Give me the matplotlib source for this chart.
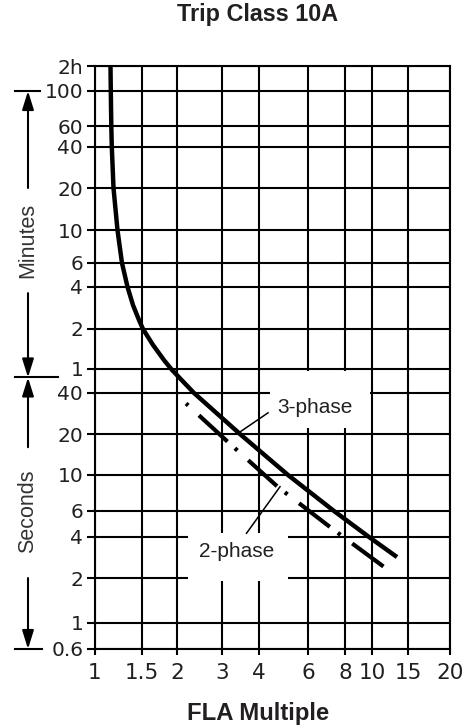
import numpy as np
import matplotlib
matplotlib.use("Agg")
import matplotlib.pyplot as plt
from matplotlib import transforms
from matplotlib.patches import Rectangle

plt.rcParams['font.family'] = ['Liberation Sans', 'DejaVu Sans']

# axis ticks (y in seconds)
x_ticks = [1, 1.5, 2, 3, 4, 6, 8, 10, 15, 20]
x_tick_labels = ['1', '1.5', '2', '3', '4', '6', '8', '10', '15', '20']
y_ticks = [0.6, 1, 2, 4, 6, 10, 20, 40, 60, 120, 240, 360, 600, 1200, 2400, 3600, 6000, 7200]
y_tick_labels = ['0.6', '1', '2', '4', '6', '10', '20', '40',
                 '1', '2', '4', '6', '10', '20', '40', '60', '100', '2h']

# trip curves
fla_3ph = [1.143, 1.146, 1.151, 1.156, 1.173, 1.214, 1.262, 1.324, 1.388, 1.462,
           1.512, 1.642, 1.797, 1.92, 2.331, 3.477, 5.085, 7.344, 9.755, 13.25]
sec_3ph = [7200, 6000, 3600, 2400, 1200, 600, 360, 240, 178, 139,
           120, 91, 70, 59, 40, 19.7, 10, 6, 4, 2.85]
fla_2ph = [2.17, 3.14, 4.68, 7.34, 12.0]
sec_2ph = [33.5, 17.5, 8.43, 4.46, 2.29]

# the printed grid is only roughly logarithmic: spacing of its lines
x_grid_px = [95, 142, 177, 222, 259, 308, 345, 372, 408, 450]
y_grid_px = [649, 623, 578, 537, 511, 475, 434, 393, 369, 329, 287, 263, 230, 188, 147, 126, 91, 66]


def warped_log(vals, pos):
    lv = np.log10(vals)
    p = np.asarray(pos, float)

    def fwd(v):
        v = np.asarray(v, float)
        shp = v.shape
        lg = np.log10(np.clip(v.ravel(), 1e-9, None))
        out = np.interp(lg, lv, p)
        lo, hi = lg < lv[0], lg > lv[-1]
        out[lo] = p[0] + (lg[lo] - lv[0]) * (p[1] - p[0]) / (lv[1] - lv[0])
        out[hi] = p[-1] + (lg[hi] - lv[-1]) * (p[-1] - p[-2]) / (lv[-1] - lv[-2])
        return out.reshape(shp)

    def inv(u):
        u = np.asarray(u, float)
        shp = u.shape
        u = u.ravel()
        lg = np.interp(u, p, lv)
        lo, hi = u < p[0], u > p[-1]
        lg[lo] = lv[0] + (u[lo] - p[0]) * (lv[1] - lv[0]) / (p[1] - p[0])
        lg[hi] = lv[-1] + (u[hi] - p[-1]) * (lv[-1] - lv[-2]) / (p[-1] - p[-2])
        return (10 ** lg).reshape(shp)

    return fwd, inv


ink = '#231f20'
fig = plt.figure(figsize=(4.69, 7.27), dpi=100)
ax = fig.add_axes([95 / 469, 78 / 727, 355 / 469, 583 / 727])

ax.set_xscale('function', functions=warped_log(x_ticks, x_grid_px))
ax.set_yscale('function', functions=warped_log(y_ticks, -np.array(y_grid_px)))

ax.grid(True, color='k', lw=1.5)
ax.set_axisbelow(True)
for s in ax.spines.values():
    s.set_linewidth(1.5)

ax.plot(fla_3ph, sec_3ph, color='k', lw=3.2, solid_capstyle='butt', solid_joinstyle='round', zorder=4)
ax.plot(fla_2ph, sec_2ph, color='k', lw=3.0, dash_capstyle='butt',
        linestyle=(11.8, (9.3, 2.4, 0.8, 3.5)), zorder=4)

# white boxes that break the grid behind the labels
ax.add_patch(Rectangle((4.38, 22.1), 9.83 - 4.38, 58.0 - 22.1, fc='white', ec='none', zorder=2))
ax.add_patch(Rectangle((2.21, 1.91), 5.08 - 2.21, 4.26 - 1.91, fc='white', ec='none', zorder=2))
ax.text(6.34, 28.5, '3-phase', fontsize=15, color=ink, ha='center', va='baseline', zorder=3)
ax.text(3.35, 2.85, '2-phase', fontsize=15, color=ink, ha='center', va='baseline', zorder=3)
ax.plot([4.31, 3.45], [28.6, 20.7], color='k', lw=1.1, zorder=3.5)
ax.plot([3.63, 4.76], [4.24, 8.47], color='k', lw=1.1, zorder=3.5)

ax.set_xticks(x_ticks, x_tick_labels)
ax.set_yticks(y_ticks, y_tick_labels)
ax.minorticks_off()
ax.tick_params(axis='y', length=5.5, width=1.5, pad=3, labelsize=14.5, labelcolor=ink)
ax.tick_params(axis='x', length=4, width=1.5, pad=6, labelsize=15.5, labelcolor=ink)
for lab in ax.get_xticklabels() + ax.get_yticklabels():
    lab.set_family('DejaVu Sans')

# Minutes / Seconds brackets on the left
trans = transforms.blended_transform_factory(fig.transFigure, ax.transData)
for y, x0, x1 in [(6000, 15, 40), (52, 15, 58), (0.6, 15, 42)]:
    ax.plot([x0 / 469, x1 / 469], [y, y], color='k', lw=1.5, transform=trans, clip_on=False)

xa = 28 / 469
arrow = dict(arrowstyle='-|>,head_length=0.8,head_width=0.25', mutation_scale=14,
             lw=1.5, color='k', shrinkA=0, shrinkB=0)
for tail, tip in [(1200, 6000), (217, 52), (16, 52), (2, 0.6)]:
    ax.annotate('', xy=(xa, tip), xycoords=trans, xytext=(xa, tail), textcoords=trans,
                arrowprops=arrow, annotation_clip=False)
ax.text(xa, 514, 'Minutes', transform=trans, rotation=90, ha='center', va='center',
        fontsize=15.5, color='#333333')
ax.text(xa, 6, 'Seconds', transform=trans, rotation=90, ha='center', va='center',
        fontsize=15.5, color='#333333')

ax.set_xlim(1, 20)
ax.set_ylim(0.6, 7200)

fig.text(258 / 469, 0.980, 'Trip Class 10A', fontsize=16.8, fontweight='bold', color=ink,
         ha='center', va='center')
fig.text(258 / 469, 0.018, 'FLA Multiple', fontsize=17.2, fontweight='bold', color=ink,
         ha='center', va='center')

fig.savefig('out.png', dpi=100)
